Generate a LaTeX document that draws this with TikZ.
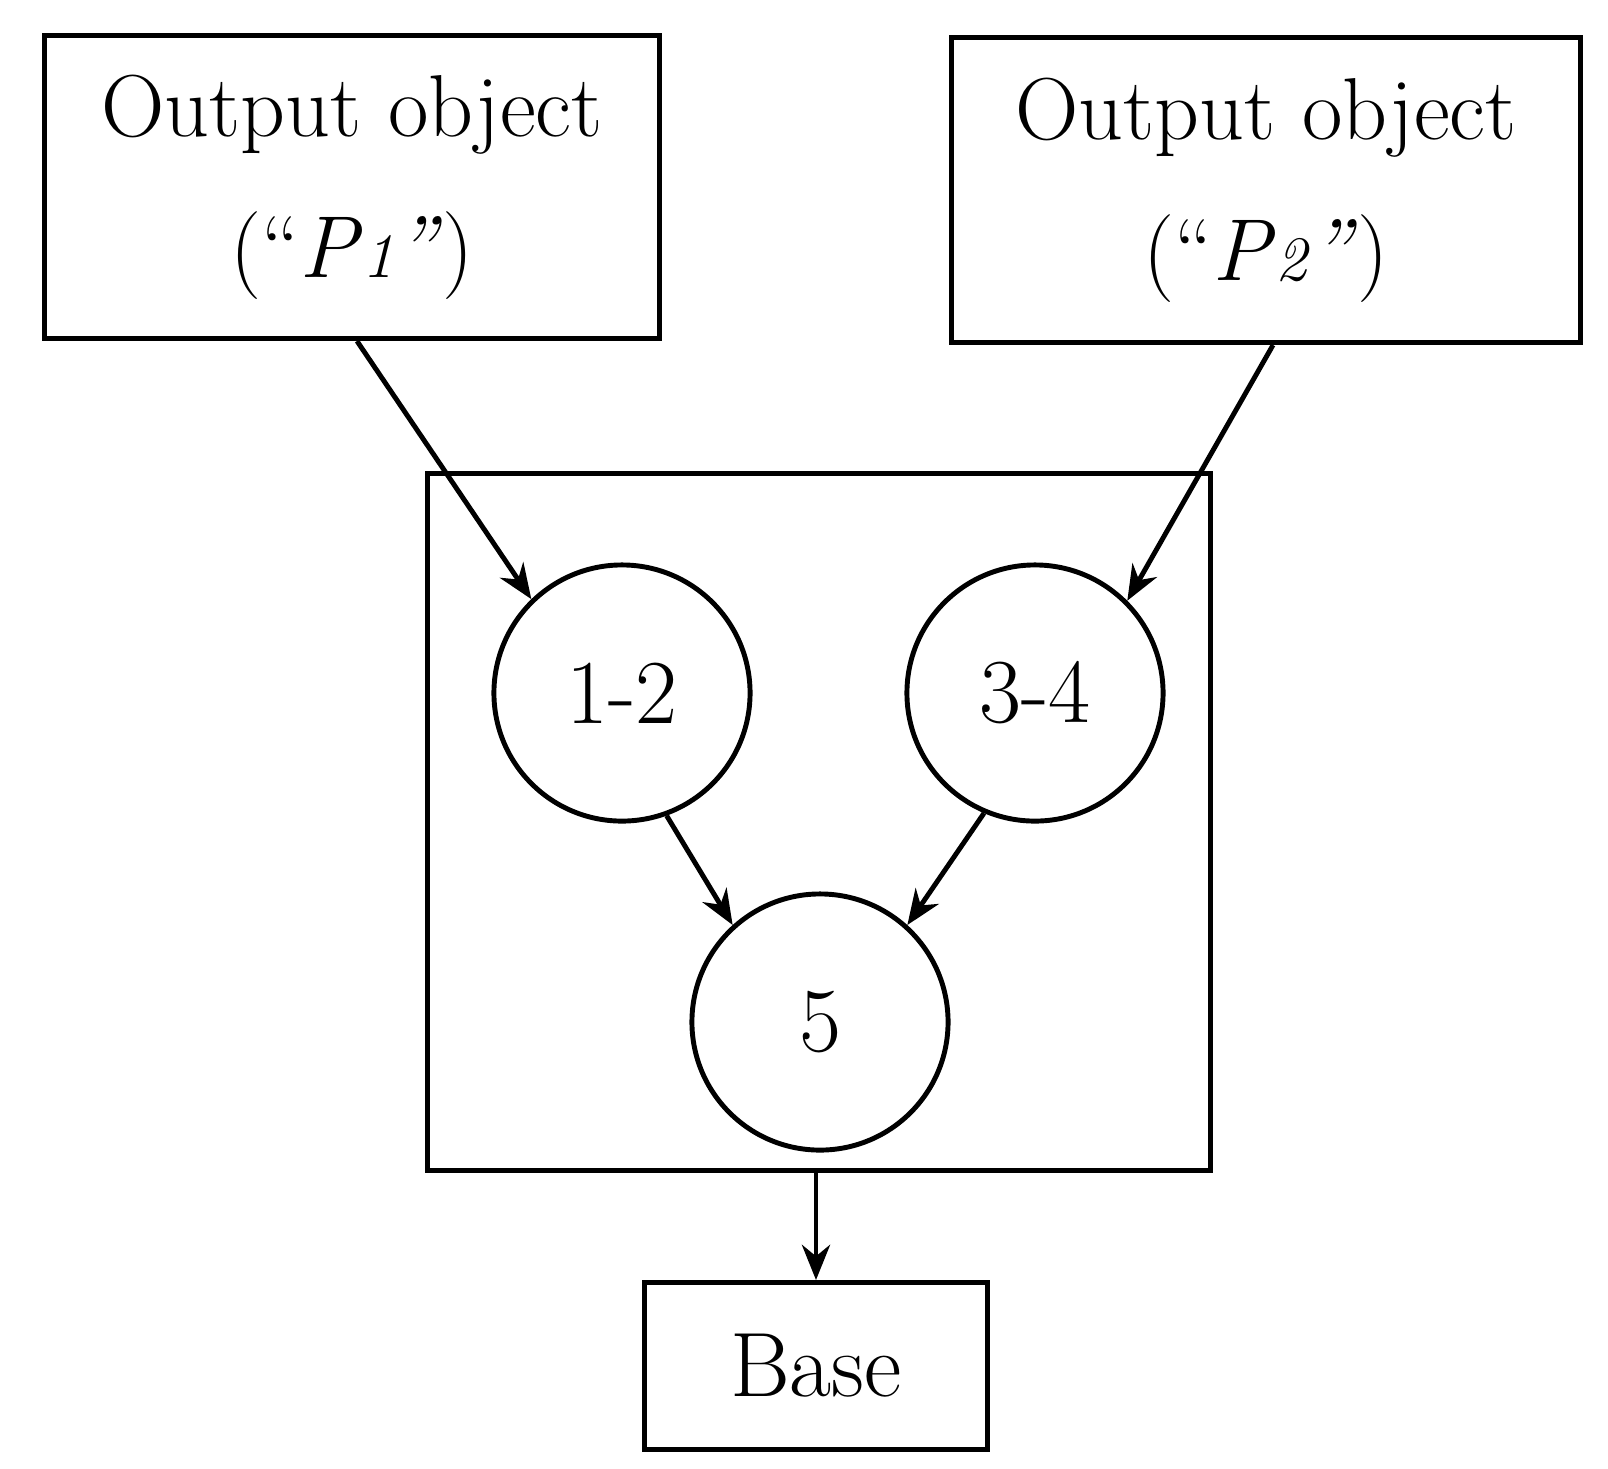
\documentclass[tikz,border=0pt]{standalone}
\usetikzlibrary{arrows.meta}
\newcommand{\subd}[1]{\textit{\fontsize{18}{20}\selectfont #1}}
\begin{document}
\begin{tikzpicture}[x=0.01cm,y=-0.01cm,
  box/.style={draw,line width=1.4pt,inner sep=0pt},
  circ/.style={draw,circle,line width=1.4pt,minimum size=2.56cm,inner sep=0pt,font=\fontsize{26}{30}\selectfont},
  arr/.style={line width=1.4pt,-{Stealth[length=10pt,width=8pt]}}]
\useasboundingbox (0,0) rectangle (1608,1468);
\node[box,minimum width=6.15cm,minimum height=3.03cm,align=center,font=\fontsize{25}{40}\selectfont] (p1) at (352,187) {Output object\\(``\textit{P}\subd{1}\textit{''})};
\node[box,minimum width=6.28cm,minimum height=3.05cm,align=center,font=\fontsize{25}{40}\selectfont] (p2) at (1266,190) {Output object\\(``\textit{P}\subd{2}\textit{''})};
\node[box,minimum width=7.82cm,minimum height=6.97cm] (big) at (819,822) {};
\node[circ] (c12) at (622,693) {1-2};
\node[circ] (c34) at (1035,693) {3-4};
\node[circ] (c5) at (820,1022) {5};
\node[box,minimum width=3.43cm,minimum height=1.67cm,font=\fontsize{26}{30}\selectfont] (base) at (816,1366) {Base};
\draw[arr] ([xshift=0.05cm]p1.south) -- (c12.134);
\draw[arr] ([xshift=0.07cm]p2.south) -- (c34.45);
\draw[arr] (c12.-70) -- (c5.132);
\draw[arr] (c34.247) -- (c5.48);
\draw[arr] (big.south -| base.north) -- (base.north);
\end{tikzpicture}
\end{document}
